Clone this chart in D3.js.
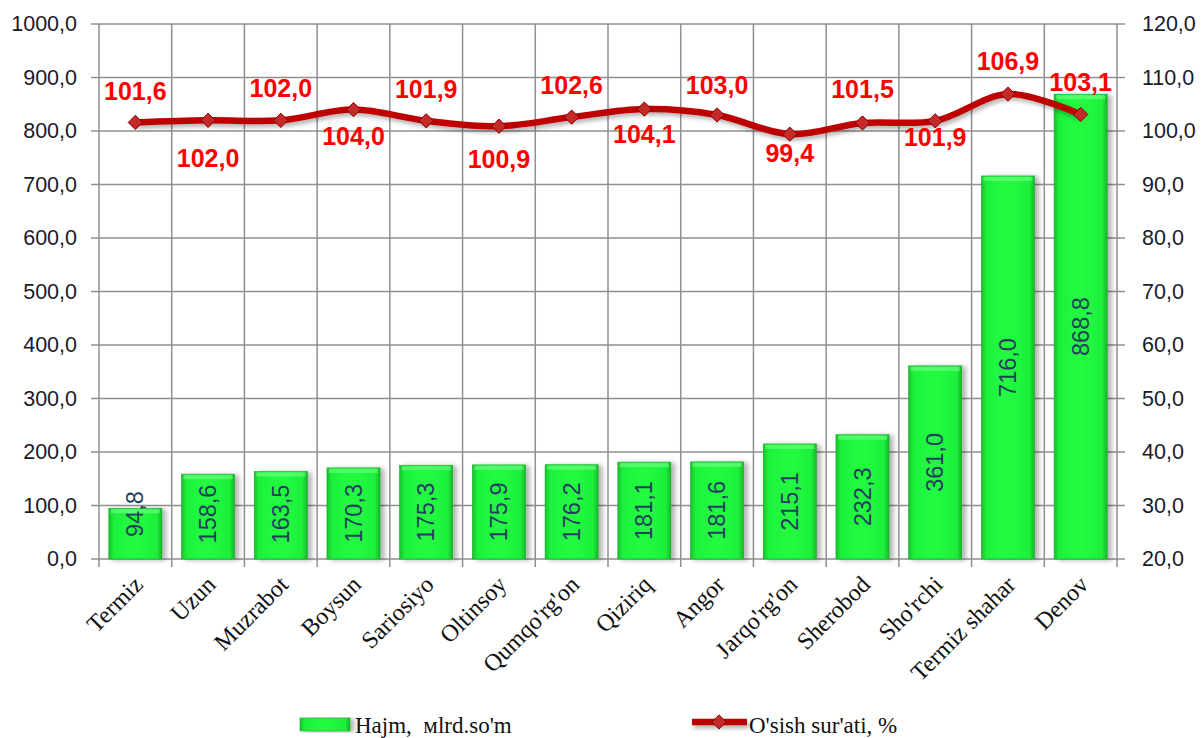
<!DOCTYPE html>
<html>
<head>
<meta charset="utf-8">
<script src="https://cdn.jsdelivr.net/npm/d3@7"></script>
<style>
  html, body { margin: 0; padding: 0; background: #fff; }
  svg { display: block; }
</style>
</head>
<body>
<div id="chart"></div>
<script>
// data
const districts = ["Termiz", "Uzun", "Muzrabot", "Boysun", "Sariosiyo", "Oltinsoy", "Qumqo'rg'on",
  "Qiziriq", "Angor", "Jarqo'rg'on", "Sherobod", "Sho'rchi", "Termiz shahar", "Denov"];
const volume = [94.8, 158.6, 163.5, 170.3, 175.3, 175.9, 176.2, 181.1, 181.6, 215.1, 232.3, 361.0, 716.0, 868.8];
const growth = [101.6, 102.0, 102.0, 104.0, 101.9, 100.9, 102.6, 104.1, 103.0, 99.4, 101.5, 101.9, 106.9, 103.1];
const leftTicks = [0, 100, 200, 300, 400, 500, 600, 700, 800, 900, 1000];
const rightTicks = [20, 30, 40, 50, 60, 70, 80, 90, 100, 110, 120];
const seriesNames = ["Hajm,  мlrd.so'm", "O'sish sur'ati, %"];

// manual nudges of the growth labels (px, relative to the marker), like Excel's dragged labels
const labelDy = [-31, 38, -32, 26, -32, 33, -32, 25, -30, 19, -34, 16, -33, -32];

const width = 1203, height = 738;
const plot = { left: 99, right: 1117, top: 24, bottom: 559 };
const fmt = d => d.toFixed(1).replace(".", ",");

const svg = d3.select("#chart").append("svg")
  .attr("width", width).attr("height", height)
  .attr("viewBox", [0, 0, width, height]);

const defs = svg.append("defs");
const grad = defs.append("linearGradient").attr("id", "barGrad")
  .attr("x1", "0%").attr("x2", "100%").attr("y1", "0%").attr("y2", "0%");
grad.append("stop").attr("offset", "0%").attr("stop-color", "#16c22c");
grad.append("stop").attr("offset", "10%").attr("stop-color", "#1ef23c");
grad.append("stop").attr("offset", "50%").attr("stop-color", "#22fb42");
grad.append("stop").attr("offset", "90%").attr("stop-color", "#1ef03b");
grad.append("stop").attr("offset", "100%").attr("stop-color", "#15b82a");

const shadow = defs.append("filter").attr("id", "shadow")
  .attr("x", "-20%").attr("y", "-5%").attr("width", "150%").attr("height", "115%");
shadow.append("feDropShadow").attr("dx", 4).attr("dy", 1).attr("stdDeviation", 2.5)
  .attr("flood-color", "#000").attr("flood-opacity", 0.3);

const lineShadow = defs.append("filter").attr("id", "lshadow")
  .attr("filterUnits", "userSpaceOnUse")
  .attr("x", 0).attr("y", 0).attr("width", width).attr("height", height);
lineShadow.append("feDropShadow").attr("dx", 2).attr("dy", 3).attr("stdDeviation", 2)
  .attr("flood-color", "#000").attr("flood-opacity", 0.3);

const x = d3.scaleBand().domain(districts)
  .range([plot.left, plot.right]).paddingInner(0.27).paddingOuter(0.135);
const xEdge = d3.scaleLinear().domain([0, districts.length]).range([plot.left, plot.right]);
const yL = d3.scaleLinear().domain([0, 1000]).range([plot.bottom, plot.top]);
const yR = d3.scaleLinear().domain([20, 120]).range([plot.bottom, plot.top]);
const cx = d => x(d) + x.bandwidth() / 2;

// grid
const grid = svg.append("g").attr("stroke", "#8f8f8f").attr("stroke-width", 1.5);
grid.selectAll("line.h").data(leftTicks).join("line")
  .attr("x1", plot.left - 8).attr("x2", plot.right + 8)
  .attr("y1", d => yL(d)).attr("y2", d => yL(d));
grid.selectAll("line.v").data(d3.range(districts.length + 1)).join("line")
  .attr("x1", d => xEdge(d)).attr("x2", d => xEdge(d))
  .attr("y1", plot.top).attr("y2", plot.bottom + 8);

// axes
const leftAxis = svg.append("g")
  .attr("transform", `translate(${plot.left - 22},0)`)
  .call(d3.axisLeft(yL).tickValues(leftTicks).tickFormat(fmt).tickSize(0).tickPadding(0));
const rightAxis = svg.append("g")
  .attr("transform", `translate(${plot.right + 25},0)`)
  .call(d3.axisRight(yR).tickValues(rightTicks).tickFormat(fmt).tickSize(0).tickPadding(0));
[leftAxis, rightAxis].forEach(g => {
  g.select(".domain").remove();
  g.selectAll("text").attr("fill", "#1a1a2a")
    .style("font-family", "Arial, 'Liberation Sans', sans-serif").style("font-size", "21.5px");
});

const xAxis = svg.append("g")
  .attr("transform", `translate(0,${plot.bottom})`)
  .call(d3.axisBottom(x).tickSize(0).tickPadding(0));
xAxis.select(".domain").remove();
xAxis.selectAll("text")
  .attr("fill", "#111")
  .attr("text-anchor", "end")
  .attr("dy", 0).attr("y", 0)
  .attr("transform", "translate(9,27) rotate(-45)")
  .style("font-family", "'Times New Roman', 'Liberation Serif', serif").style("font-size", "24px");

// bars
svg.append("g").attr("filter", "url(#shadow)")
  .selectAll("rect").data(volume).join("rect")
  .attr("x", (d, i) => x(districts[i]))
  .attr("y", d => yL(d))
  .attr("width", x.bandwidth())
  .attr("height", d => yL(0) - yL(d))
  .attr("fill", "url(#barGrad)")
  .attr("stroke", "#14a826").attr("stroke-width", 0.6);
// top bevel highlight
svg.append("g").selectAll("rect").data(volume).join("rect")
  .attr("x", (d, i) => x(districts[i]) + 2)
  .attr("y", d => yL(d) + 1)
  .attr("width", x.bandwidth() - 4)
  .attr("height", 4)
  .attr("fill", "#7dff8e").attr("opacity", 0.55);

// bar labels (rotated, centred, kept inside small bars)
svg.append("g").selectAll("text").data(volume).join("text")
  .attr("transform", (d, i) => {
    const half = 29;
    const cy = Math.min((yL(d) + yL(0)) / 2, yL(0) - 16 - half);
    return `translate(${cx(districts[i]) + 8},${cy}) rotate(-90)`;
  })
  .attr("text-anchor", "middle")
  .attr("fill", "#22405e")
  .style("font-family", "Arial, 'Liberation Sans', sans-serif").style("font-size", "23.5px")
  .text(fmt);

// growth line
const line = d3.line()
  .x((d, i) => cx(districts[i]))
  .y(d => yR(d))
  .curve(d3.curveCatmullRom.alpha(0.5));
svg.append("path").datum(growth)
  .attr("d", line)
  .attr("fill", "none")
  .attr("stroke", "#bd0000")
  .attr("stroke-width", 6.5)
  .attr("stroke-linejoin", "round")
  .attr("filter", "url(#lshadow)");

const diamond = d3.symbol().type(d3.symbolDiamond2).size(130);
svg.append("g").selectAll("path").data(growth).join("path")
  .attr("transform", (d, i) => `translate(${cx(districts[i])},${yR(d)})`)
  .attr("d", diamond)
  .attr("fill", "#c42a2a").attr("stroke", "#8a0000").attr("stroke-width", 1);

svg.append("g").selectAll("text").data(growth).join("text")
  .attr("x", (d, i) => cx(districts[i]))
  .attr("y", (d, i) => yR(d) + labelDy[i])
  .attr("dy", "0.36em")
  .attr("text-anchor", "middle")
  .attr("fill", "#ff0000")
  .style("font-family", "Arial, 'Liberation Sans', sans-serif")
  .style("font-size", "25px").style("font-weight", "bold")
  .text(fmt);

// legend
const legend = svg.append("g")
  .style("font-family", "'Times New Roman', 'Liberation Serif', serif").style("font-size", "23px")
  .attr("fill", "#111");
legend.append("rect").attr("x", 300).attr("y", 718).attr("width", 50).attr("height", 13)
  .attr("fill", "url(#barGrad)").attr("stroke", "#14a826").attr("stroke-width", 0.6)
  .attr("filter", "url(#shadow)");
legend.append("text").attr("x", 355).attr("y", 733)
  .text(seriesNames[0].replace(/  /g, " \u00a0"));
legend.append("line").attr("x1", 692).attr("x2", 747).attr("y1", 722).attr("y2", 722)
  .attr("stroke", "#bd0000").attr("stroke-width", 6.5).attr("filter", "url(#lshadow)");
legend.append("path").attr("transform", "translate(719,722)").attr("d", diamond)
  .attr("fill", "#c42a2a").attr("stroke", "#8a0000");
legend.append("text").attr("x", 749).attr("y", 733).text(seriesNames[1]);
</script>
</body>
</html>
